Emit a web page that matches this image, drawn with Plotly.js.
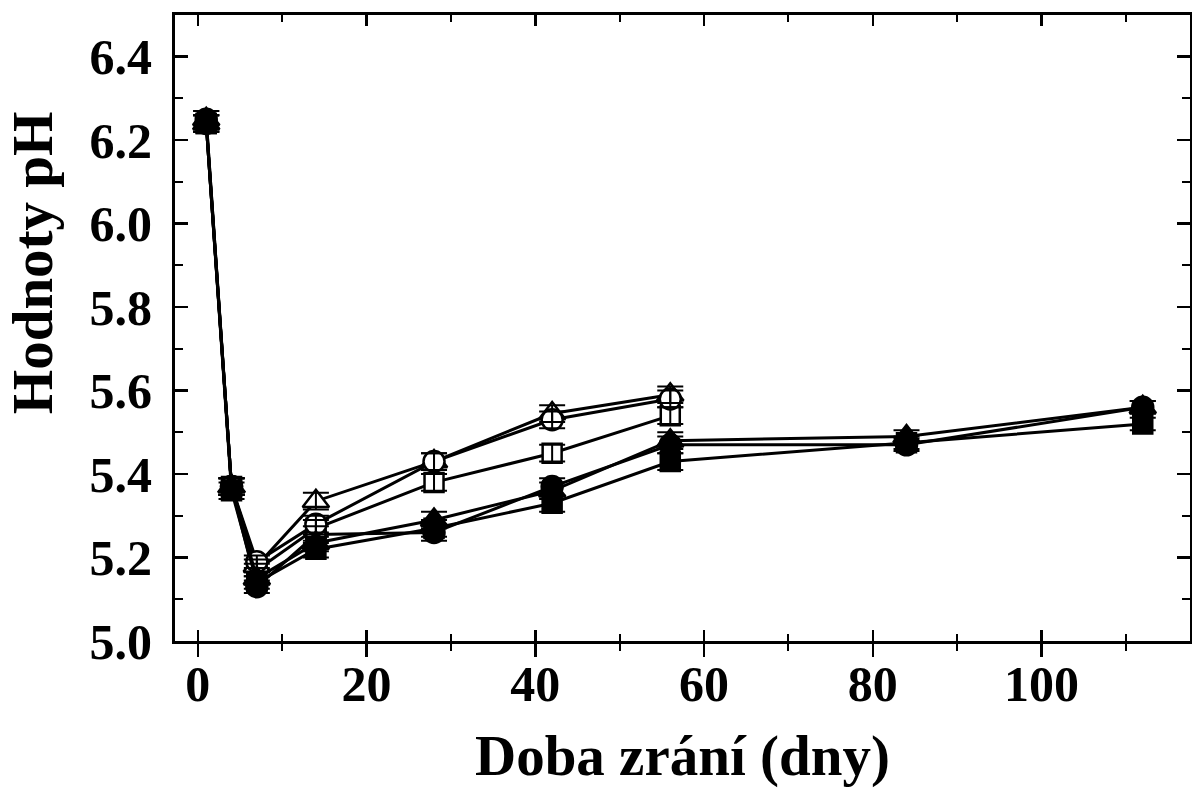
<!DOCTYPE html>
<html>
<head>
<meta charset="utf-8">
<script src="https://cdn.plot.ly/plotly-3.0.1.min.js"></script>
<style>html,body{margin:0;padding:0;background:#fff;}#chart{width:1192px;height:789px;}</style>
</head>
<body>
<div id="chart"></div>
<script>
// Days of ripening
const daysOpen = [1, 4, 7, 14, 28, 42, 56];
const daysFilled = [1, 4, 7, 14, 28, 42, 56, 84, 112];

// pH values per series
const openTriangle = [6.24, 5.37, 5.18, 5.335, 5.43, 5.545, 5.59];
const openCircle   = [6.24, 5.37, 5.19, 5.28, 5.43, 5.53, 5.58];
const openSquare   = [6.24, 5.37, 5.17, 5.27, 5.38, 5.45, 5.54];
const filledTriangle = [6.25, 5.37, 5.15, 5.235, 5.29, 5.36, 5.48, 5.49, 5.56];
const filledCircle   = [6.25, 5.37, 5.13, 5.255, 5.26, 5.37, 5.47, 5.47, 5.56];
const filledSquare   = [6.24, 5.36, 5.14, 5.22, 5.27, 5.33, 5.43, 5.475, 5.52];

// error (SD) values
const errOpen   = [0.02, 0.02, 0.015, 0.02, 0.02, 0.02, 0.02];
const errFilled = [0.02, 0.02, 0.015, 0.02, 0.02, 0.02, 0.02, 0.015, 0.015];

const xTitle = "Doba zrání (dny)";
const yTitle = "Hodnoty pH";

const FONT = "Liberation Serif, Times New Roman, serif";

const series = [
  {x: daysFilled, y: filledCircle, e: errFilled, sym: "circle", fill: "#000"},
  {x: daysOpen, y: openSquare, e: errOpen, sym: "square", fill: "#fff"},
  {x: daysOpen, y: openTriangle, e: errOpen, sym: "triangle-up", fill: "#fff"},
  {x: daysOpen, y: openCircle, e: errOpen, sym: "circle", fill: "#fff"},
  {x: daysFilled, y: filledSquare, e: errFilled, sym: "square", fill: "#000"},
  {x: daysFilled, y: filledTriangle, e: errFilled, sym: "triangle-up", fill: "#000"}
];

const traces = [];
series.forEach(s => {
  const sz = s.sym === "triangle-up" ? 23 : (s.sym === "square" ? 19 : 21);
  traces.push({
    x: s.x, y: s.y, type: "scatter", mode: "lines+markers",
    line: {color: "#000", width: 3},
    marker: {symbol: s.sym, size: sz, color: s.fill,
             line: {color: "#000", width: 2.5}},
    showlegend: false, hoverinfo: "skip"
  });
});
series.forEach(s => {
  traces.push({
    x: s.x, y: s.y, type: "scatter", mode: "markers",
    marker: {size: 1, opacity: 0},
    error_y: {type: "data", array: s.e, visible: true, color: "#000", thickness: 2, width: 13},
    showlegend: false, hoverinfo: "skip"
  });
});

const tickFont = {family: FONT, size: 50, color: "#000", weight: "bold"};
const titleFont = {family: FONT, size: 57, color: "#000", weight: "bold"};

const layout = {
  width: 1192, height: 789,
  margin: {l: 175, r: 2, t: 15, b: 148},
  paper_bgcolor: "#fff", plot_bgcolor: "#fff",
  showlegend: false,
  xaxis: {
    range: [-2.7, 117.6], showgrid: false, zeroline: false,
    showline: true, linewidth: 3, linecolor: "#000", mirror: true,
    ticks: "outside", ticklen: 13, tickwidth: 2.5, tickcolor: "#000",
    tick0: 0, dtick: 20,
    minor: {ticks: "outside", ticklen: 7, tickwidth: 2, tickcolor: "#000", dtick: 10},
    tickfont: tickFont, ticklabelstandoff: -16
  },
  xaxis2: {
    overlaying: "x", matches: "x", range: [-2.7, 117.6], showgrid: false, zeroline: false,
    showline: false, mirror: "ticks",
    ticks: "inside", ticklen: 11, tickwidth: 2.5, tickcolor: "#000",
    tick0: 0, dtick: 20, showticklabels: false,
    minor: {ticks: "inside", ticklen: 7, tickwidth: 2, tickcolor: "#000", dtick: 10}
  },
  yaxis: {
    range: [5.0, 6.5], showgrid: false, zeroline: false,
    showline: true, linewidth: 3, linecolor: "#000", mirror: "ticks",
    ticks: "inside", ticklen: 13, tickwidth: 2.5, tickcolor: "#000",
    tick0: 5.0, dtick: 0.2, tickformat: ".1f",
    minor: {ticks: "inside", ticklen: 8, tickwidth: 2, tickcolor: "#000", dtick: 0.1},
    tickfont: tickFont, ticklabelstandoff: 10
  },
  annotations: [
    {text: xTitle, xref: "paper", yref: "paper", x: 0.5, y: -0.183,
     xanchor: "center", yanchor: "middle", showarrow: false, font: titleFont},
    {text: yTitle, xref: "paper", yref: "paper", x: -0.141, y: 0.605, textangle: -90,
     xanchor: "center", yanchor: "middle", showarrow: false, font: titleFont}
  ]
};

// dummy trace to activate xaxis2
traces.push({x: [0], y: [5.0], xaxis: "x2", yaxis: "y", mode: "markers", marker: {opacity: 0}, showlegend: false, hoverinfo: "skip", type: "scatter"});

Plotly.newPlot("chart", traces, layout, {displayModeBar: false, staticPlot: true});
</script>
</body>
</html>
